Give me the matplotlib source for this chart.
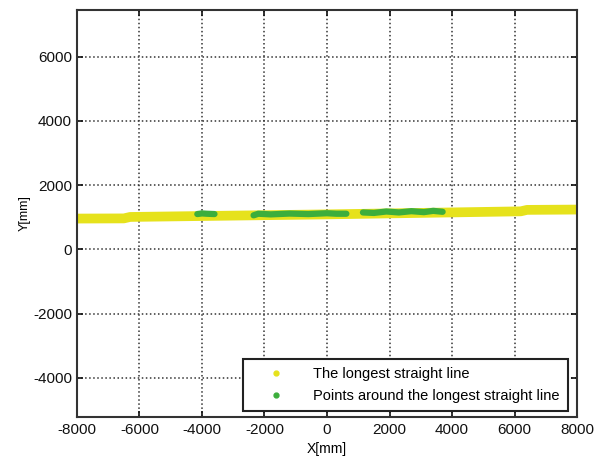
import matplotlib.pyplot as plt
from matplotlib.lines import Line2D

plt.rcParams['font.family'] = ['Liberation Sans', 'DejaVu Sans']
plt.rcParams['axes.unicode_minus'] = False

# longest straight line (yellow), polyline vertices
line_x = [-8000, -6500, -6300, 0, 6200, 6400, 8000]
line_y = [960, 965, 1010, 1090, 1185, 1230, 1240]

# points around the longest straight line (green), three clusters
g1_x = [-4150, -4000, -3850, -3600]
g1_y = [1100, 1120, 1110, 1100]
g2_x = [-2350, -2200, -1800, -1200, -600, 0, 300, 620]
g2_y = [1060, 1110, 1090, 1115, 1100, 1125, 1110, 1110]
g3_x = [1150, 1500, 1900, 2300, 2700, 3100, 3400, 3700]
g3_y = [1150, 1135, 1180, 1150, 1190, 1160, 1200, 1170]

yellow = '#e6e21c'
green = '#3cae3c'

fig = plt.figure(figsize=(5.94, 4.61), dpi=100)
ax = fig.add_axes([0.1296, 0.0965, 0.8418, 0.8818])

ax.plot(line_x, line_y, color=yellow, lw=7, solid_capstyle='butt', zorder=2)
for gx, gy in [(g1_x, g1_y), (g2_x, g2_y), (g3_x, g3_y)]:
    ax.plot(gx, gy, color=green, lw=4.5, solid_capstyle='round', zorder=3)

ax.set_xlim(-8000, 8000)
ax.set_ylim(-5200, 7450)
ax.set_xticks(range(-8000, 8001, 2000))
ax.set_yticks(range(-4000, 6001, 2000))
ax.tick_params(direction='in', top=True, right=True, length=4, width=1.2,
               labelsize=11, colors='#111111')
ax.tick_params(axis='x', pad=5)
ax.grid(True, color='#333333', linestyle=':', linewidth=1.1)
for s in ax.spines.values():
    s.set_linewidth(1.5)
    s.set_color('#333333')

ax.set_xlabel('X[mm]', fontsize=10, labelpad=3)
ax.set_ylabel('Y[mm]', fontsize=9, labelpad=2)

handles = [
    Line2D([], [], ls='none', marker='o', ms=3.5, color=yellow),
    Line2D([], [], ls='none', marker='o', ms=3.5, color=green),
]
labels = ['The longest straight line', 'Points around the longest straight line']
leg = ax.legend(handles, labels, loc='lower right', bbox_to_anchor=(0.982, 0.014),
                fontsize=10.5, fancybox=False, framealpha=1, edgecolor='#222222',
                borderpad=0.55, handletextpad=0.9, handlelength=3.4, labelspacing=0.55,
                borderaxespad=0)
leg.get_frame().set_linewidth(1.5)

fig.savefig('out.png', dpi=100)
